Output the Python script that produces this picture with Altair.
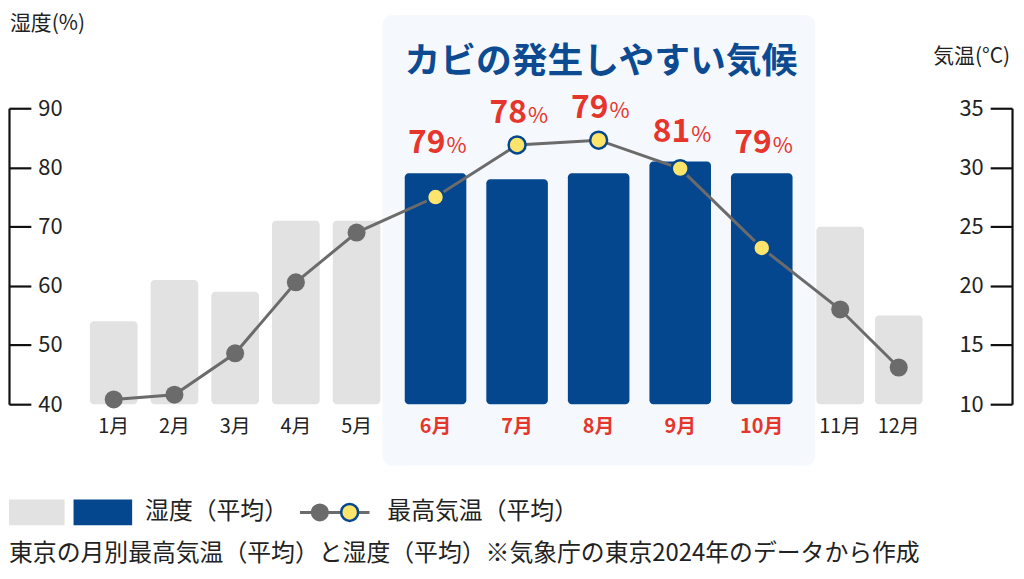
import altair as alt
import pandas as pd

# ---------------- data ----------------
months = [1, 2, 3, 4, 5, 6, 7, 8, 9, 10, 11, 12]
month_labels = ["1月", "2月", "3月", "4月", "5月", "6月", "7月", "8月", "9月", "10月", "11月", "12月"]
humidity = [54, 61, 59, 71, 71, 79, 78, 79, 81, 79, 70, 55]          # 湿度（平均） %
max_temp = [10.4, 10.8, 14.3, 20.3, 24.5, 27.5, 31.9, 32.3, 29.9, 23.2, 18.0, 13.1]  # 最高気温（平均） ℃
peak_months = [6, 7, 8, 9, 10]
hum_ticks = [40, 50, 60, 70, 80, 90]
temp_ticks = [10, 15, 20, 25, 30, 35]
hum_domain = [40, 90]
temp_domain = [10, 35]

FONT = "Noto Sans CJK JP"
GRAY_BAR = "#e2e2e2"
BLUE = "#04478e"
LINE = "#6b6b6b"
YELLOW = "#fde56b"
RED = "#e6352b"
TITLE_BLUE = "#0c4a92"
BG = "#f5f9fe"
INK = "#222222"

W, H = 1010, 298

df = pd.DataFrame({
    "month": months,
    "label": month_labels,
    "humidity": humidity,
    "temp": max_temp,
})
df["peak"] = df["month"].isin(peak_months)
hum_norm = (df["humidity"] - hum_domain[0]) / (hum_domain[1] - hum_domain[0])
temp_norm = (df["temp"] - temp_domain[0]) / (temp_domain[1] - temp_domain[0])
df["dot_above"] = temp_norm > hum_norm
df["hum_text"] = df["humidity"].astype(str)
df["pct"] = "%"

one = pd.DataFrame({"k": [0]})

x_scale = alt.Scale(domain=[1, 5, 6, 10, 11, 12],
                    range=[101.2, 350, 429.5, 758, 837, 900],
                    nice=False, zero=False)
X = alt.X("month:Q", scale=x_scale, axis=None)
hum_scale = alt.Scale(domain=hum_domain, nice=False, zero=False)
temp_scale = alt.Scale(domain=temp_domain, nice=False, zero=False)

axis_style = dict(grid=False, title=None, domainColor="#111111", domainWidth=2.2,
                  tickColor="#111111", tickWidth=2.2, tickSize=22,
                  labelFontSize=22, labelColor=INK, labelFont=FONT,
                  labelPadding=7, labelOverlap=False)
hum_axis = alt.Axis(orient="right", offset=-W, values=hum_ticks, **axis_style)
temp_axis = alt.Axis(orient="left", offset=-W, values=temp_ticks, **axis_style)

base = alt.Chart(df)

bg = alt.Chart(one).mark_rect(color=BG, cornerRadius=10).encode(
    x=alt.value(376), x2=alt.value(812), y=alt.value(-94), y2=alt.value(360))

gray_bars = base.transform_filter("!datum.peak").mark_bar(
    width=48, cornerRadius=4, color=GRAY_BAR).encode(
    x=X, y=alt.Y("humidity:Q", scale=hum_scale, axis=hum_axis), y2=alt.datum(40))

blue_bars = base.transform_filter("datum.peak").mark_bar(
    width=62, cornerRadius=4, color=BLUE).encode(
    x=X, y=alt.Y("humidity:Q", scale=hum_scale, axis=None), y2=alt.datum(40))

line = base.mark_line(color=LINE, strokeWidth=3).encode(
    x=X, y=alt.Y("temp:Q", scale=temp_scale, axis=temp_axis))

gray_dots = base.transform_filter("!datum.peak").mark_circle(
    size=330, color=LINE, opacity=1).encode(
    x=X, y=alt.Y("temp:Q", scale=temp_scale, axis=None))

yellow_dots = base.transform_filter("datum.peak").mark_circle(
    size=290, color=YELLOW, stroke=BLUE, strokeWidth=2.5, opacity=1).encode(
    x=X, y=alt.Y("temp:Q", scale=temp_scale, axis=None))

num_style = dict(align="right", baseline="alphabetic", dx=10, fontSize=32,
                 fontWeight="bold", color=RED, font=FONT)
pct_style = dict(align="left", baseline="alphabetic", dx=11, fontSize=22,
                 fontWeight="normal", color=RED, font=FONT)

num_bar = base.transform_filter("datum.peak && !datum.dot_above").mark_text(
    dy=-20, **num_style).encode(
    x=X, y=alt.Y("humidity:Q", scale=hum_scale, axis=None), text="hum_text:N")
pct_bar = base.transform_filter("datum.peak && !datum.dot_above").mark_text(
    dy=-20, **pct_style).encode(
    x=X, y=alt.Y("humidity:Q", scale=hum_scale, axis=None), text="pct:N")
num_dot = base.transform_filter("datum.peak && datum.dot_above").mark_text(
    dy=-22, **num_style).encode(
    x=X, y=alt.Y("temp:Q", scale=temp_scale, axis=None), text="hum_text:N")
pct_dot = base.transform_filter("datum.peak && datum.dot_above").mark_text(
    dy=-22, **pct_style).encode(
    x=X, y=alt.Y("temp:Q", scale=temp_scale, axis=None), text="pct:N")

month_norm = base.transform_filter("!datum.peak").mark_text(
    fontSize=20, color=INK, font=FONT, baseline="middle").encode(
    x=X, y=alt.value(H + 23), text="label:N")
month_peak = base.transform_filter("datum.peak").mark_text(
    fontSize=20, color=RED, font=FONT, fontWeight="bold", baseline="middle").encode(
    x=X, y=alt.value(H + 23), text="label:N")

# ---------------- decorations ----------------
def txt(s, x, y, size, color=INK, weight="normal", align="left"):
    return alt.Chart(one).mark_text(
        text=s, fontSize=size, color=color, fontWeight=weight, align=align,
        baseline="middle", font=FONT).encode(x=alt.value(x), y=alt.value(y))

title = txt("カビの発生しやすい気候", 596, -47, 36, TITLE_BLUE, "bold", "center")
hum_title = txt("湿度(%)", 1, -85, 21)
temp_title = txt("気温(°C)", 1008, -52, 21, align="right")

leg_gray = alt.Chart(one).mark_rect(color=GRAY_BAR).encode(
    x=alt.value(0), x2=alt.value(56), y=alt.value(394), y2=alt.value(420))
leg_blue = alt.Chart(one).mark_rect(color=BLUE).encode(
    x=alt.value(65), x2=alt.value(124), y=alt.value(394), y2=alt.value(420))
leg_hum = txt("湿度（平均）", 137, 407, 24)
leg_line = alt.Chart(one).mark_rule(color=LINE, strokeWidth=3).encode(
    x=alt.value(293), x2=alt.value(363), y=alt.value(407))
leg_dot1 = alt.Chart(one).mark_circle(size=330, color=LINE, opacity=1).encode(
    x=alt.value(313), y=alt.value(407))
leg_dot2 = alt.Chart(one).mark_circle(size=290, color=YELLOW, stroke=BLUE,
                                      strokeWidth=2.5, opacity=1).encode(
    x=alt.value(343), y=alt.value(407))
leg_temp = txt("最高気温（平均）", 381, 407, 24)
note = txt("東京の月別最高気温（平均）と湿度（平均）※気象庁の東京2024年のデータから作成",
           0, 449, 24)

chart = alt.layer(
    bg, gray_bars, blue_bars, line, gray_dots, yellow_dots,
    num_bar, pct_bar, num_dot, pct_dot, month_norm, month_peak,
    title, hum_title, temp_title,
    leg_gray, leg_blue, leg_hum, leg_line, leg_dot1, leg_dot2, leg_temp, note,
).resolve_scale(y="independent").properties(
    width=W, height=H,
    padding={"left": 1, "top": 99, "right": 4, "bottom": 164},
    autosize=alt.AutoSizeParams(type="none"),
).configure(font=FONT, background="white").configure_view(stroke=None)

chart.save("out.html", embed_options={"renderer": "svg", "actions": False})
